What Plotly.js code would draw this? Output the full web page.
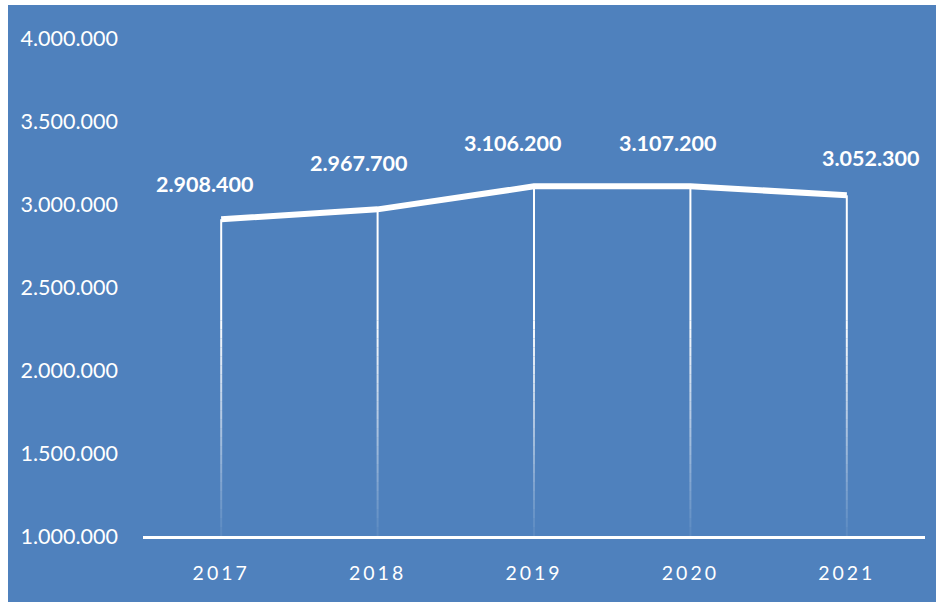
<!DOCTYPE html>
<html>
<head>
<meta charset="utf-8">
<script src="https://cdn.plot.ly/plotly-3.0.1.min.js"></script>
<style>
  html, body { margin: 0; padding: 0; background: #ffffff; }
  #chart { position: absolute; left: 8px; top: 5px; width: 928px; height: 597px; }
  #chart .xtick text { letter-spacing: 3px; }
</style>
</head>
<body>
<div id="chart"></div>
<script>
// ---- data ----
const years = ['2017', '2018', '2019', '2020', '2021'];
const values = [2908400, 2967700, 3106200, 3107200, 3052300];
const yTickVals = [1000000, 1500000, 2000000, 2500000, 3000000, 3500000, 4000000];

// ---- layout config (label offsets in px) ----
const labelXShift = [-16, -19, -21, -22, 24];
const labelYShift = [35, 46, 43, 43, 37];

const bg = '#4f81bd';
const shapes = [];
const yMin = 1000000;
const fadeTop = 2300000;
const nSeg = 24;
years.forEach((yr, i) => {
  shapes.push({
    type: 'line', xref: 'x', yref: 'y', x0: i, x1: i, y0: values[i], y1: fadeTop,
    line: { color: '#ffffff', width: 2 }, layer: 'below'
  });
  for (let k = 0; k < nSeg; k++) {
    const a = fadeTop - (fadeTop - yMin) * k / nSeg;
    const b = fadeTop - (fadeTop - yMin) * (k + 1) / nSeg;
    shapes.push({
      type: 'line', xref: 'x', yref: 'y', x0: i, x1: i, y0: a, y1: b,
      line: { color: '#ffffff', width: 2 }, opacity: Math.max(0.06, 1 - (k + 0.5) / nSeg * 0.95),
      layer: 'below'
    });
  }
});

const annotations = years.map((yr, i) => ({
  x: i, y: values[i], xref: 'x', yref: 'y',
  text: values[i].toLocaleString('de-DE'),
  showarrow: false, xanchor: 'center', yanchor: 'middle',
  xshift: labelXShift[i], yshift: labelYShift[i],
  font: { family: 'Lato, "Open Sans", sans-serif', size: 21.5, color: '#ffffff', weight: 'bold' }
}));

const trace = {
  x: years.map((_, i) => i),
  y: values,
  type: 'scatter',
  mode: 'lines',
  line: { color: '#ffffff', width: 6 },
  hoverinfo: 'skip'
};

const layout = {
  width: 928, height: 597,
  margin: { l: 135, r: 11, t: 33, b: 66 },
  paper_bgcolor: bg, plot_bgcolor: bg,
  separators: ',.',
  showlegend: false,
  font: { family: 'Lato, "Open Sans", sans-serif', color: '#ffffff' },
  xaxis: {
    range: [-0.5, 4.5],
    tickvals: years.map((_, i) => i),
    ticktext: years,
    showgrid: false, zeroline: false,
    showline: true, linecolor: '#ffffff', linewidth: 2.5,
    ticks: '', ticklabelstandoff: 18,
    tickfont: { size: 19.5, color: '#ffffff' },
    fixedrange: true
  },
  yaxis: {
    range: [1000000, 4000000],
    tickvals: yTickVals,
    tickformat: ',d',
    showgrid: false, zeroline: false, showline: false,
    ticks: '', ticklabelstandoff: 24,
    tickfont: { size: 21.5, color: '#ffffff' },
    fixedrange: true
  },
  shapes: shapes,
  annotations: annotations
};

Plotly.newPlot('chart', [trace], layout, { displayModeBar: false, staticPlot: true });
</script>
</body>
</html>
